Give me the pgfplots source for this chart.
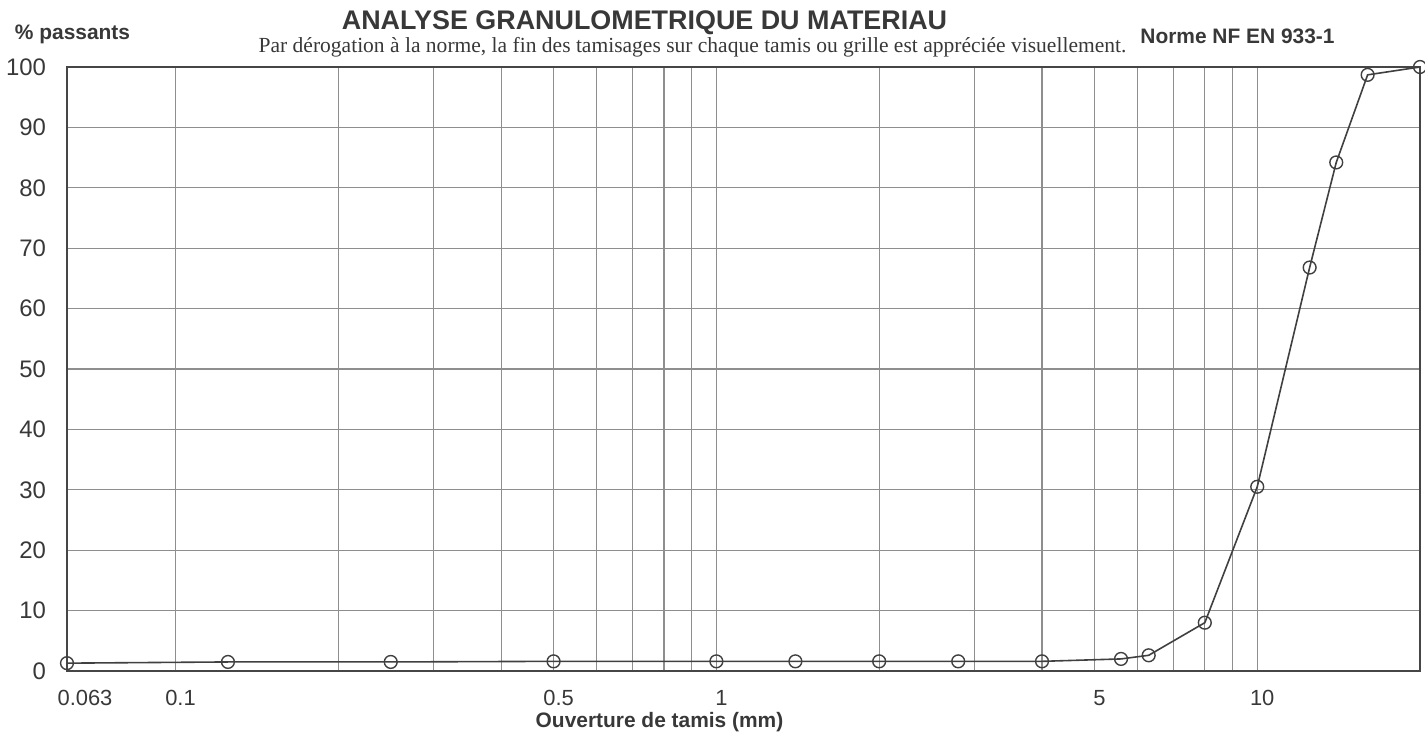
\documentclass[border=0pt]{standalone}
\usepackage{fontspec}
\setmainfont{Liberation Serif}
\setsansfont{Liberation Sans}
\usepackage{pgfplots}
\pgfplotsset{compat=1.18}
\definecolor{txt}{HTML}{383838}
\definecolor{gridc}{HTML}{8E8E8E}
\definecolor{linec}{HTML}{404040}
\pgfplotstableread{
x y
0.063 1.3
0.125 1.5
0.25 1.5
0.5 1.6
1 1.6
1.4 1.6
2 1.6
2.8 1.6
4 1.6
5.6 2.0
6.3 2.6
8 8.0
10 30.5
12.5 66.8
14 84.2
16 98.7
20 100
}\datatable
\begin{document}
\begin{tikzpicture}[x=1bp,y=1bp]
\useasboundingbox (-33.5,-30) rectangle (679,335.5);
\begin{axis}[
 at={(0,0)}, anchor=south west, scale only axis,
 width=676.5bp, height=302bp,
 xmode=log, log basis x=10,
 xmin=0.063, xmax=20, ymin=0, ymax=100,
 xtick={0.1,0.5,1,5,10}, xticklabels={0.1,0.5,1,5,10},
 extra x ticks={0.063}, extra x tick labels={0.063},
 extra x tick style={grid=none, xticklabel style={xshift=6.5bp}},
 minor xtick={0.2,0.3,0.4,0.6,0.7,0.8,0.9,2,3,4,6,7,8,9},
 ytick={0,10,...,100},
 grid=both,
 major grid style={gridc, line width=0.6bp},
 minor grid style={gridc, line width=0.6bp},
 major tick length=0pt, minor tick length=0pt,
 axis line style={draw=gray!55!black, line width=1.2bp},
 tick label style={font=\sffamily\fontsize{11}{12}\selectfont, text=txt},
 yticklabel style={font=\sffamily\fontsize{12}{13}\selectfont, xshift=-7bp},
 xticklabel style={xshift=2.5bp, yshift=-6bp},
 /pgf/number format/assume math mode=true,
 clip=false,
]
\addplot[linec, line width=0.8bp, mark=o, mark size=3.2bp, mark options={solid, line width=0.7bp, draw=linec}] table[x=x,y=y] {\datatable};
\end{axis}
\node[font=\sffamily\bfseries\fontsize{13.5}{15}\selectfont, text=txt] at (288.75,324) {ANALYSE GRANULOMETRIQUE DU MATERIAU};
\node[font=\rmfamily\fontsize{10.8}{12}\selectfont, text=txt] at (312.75,312) {Par dérogation à la norme, la fin des tamisages sur chaque tamis ou grille est appréciée visuellement.};
\node[font=\sffamily\bfseries\fontsize{10.5}{12}\selectfont, text=txt] at (585.25,317.5) {Norme NF EN 933-1};
\node[font=\sffamily\bfseries\fontsize{10.5}{12}\selectfont, text=txt] at (2.75,318.5) {\% passants};
\node[font=\sffamily\bfseries\fontsize{10.5}{12}\selectfont, text=txt] at (296.25,-25.5) {Ouverture de tamis (mm)};
\end{tikzpicture}
\end{document}
